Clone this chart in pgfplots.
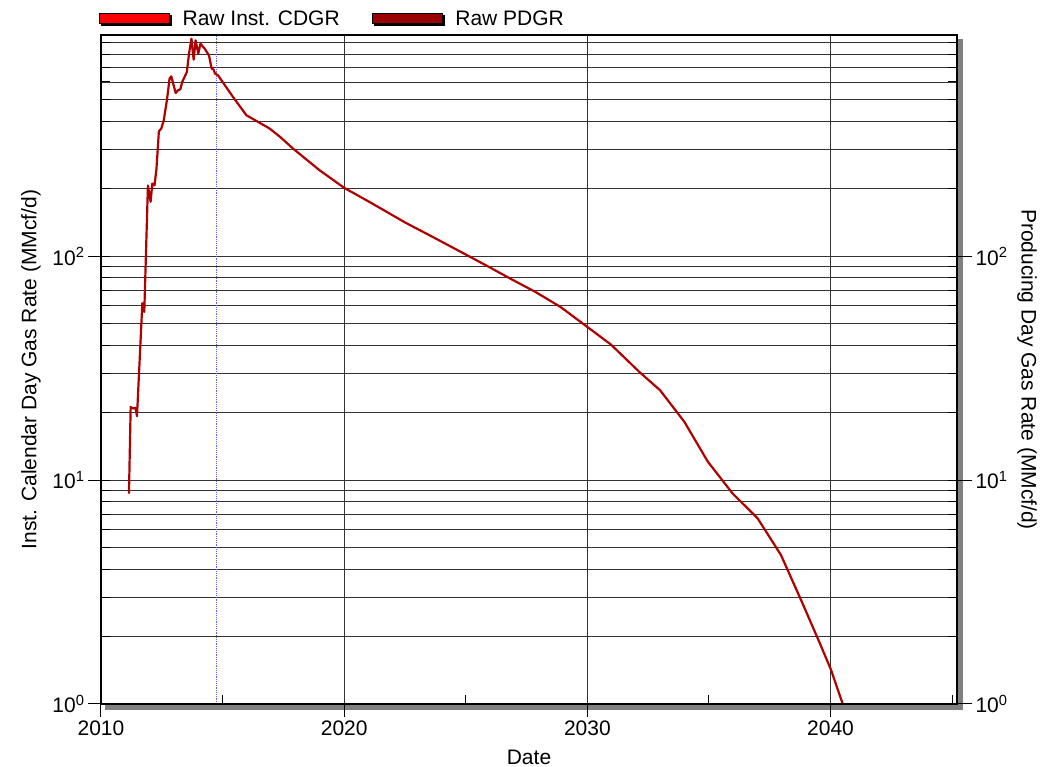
\documentclass[border=0pt]{standalone}
\usepackage{pgfplots}
\pgfplotsset{compat=1.18}
\usepackage{pgfplotstable}
\usepackage{fontspec}
\setmainfont{Liberation Sans}
\definecolor{cdgr}{HTML}{FF0000}
\definecolor{pdgr}{HTML}{990000}
\definecolor{curve}{HTML}{B00000}
\definecolor{vline}{HTML}{6060FF}
\definecolor{shadowgray}{HTML}{808080}
\newcommand\ff{\fontsize{21}{25}\selectfont}

\pgfplotstableread{
year rate
2011.15 8.7
2011.22 21.2
2011.32 20.9
2011.42 21.0
2011.48 19.3
2011.70 61.7
2011.78 56.4
2011.93 207
2012.04 175
2012.11 211
2012.20 207
2012.28 245
2012.38 361
2012.48 372
2012.58 405
2012.71 497
2012.82 621
2012.89 636
2013.07 536
2013.17 551
2013.26 556
2013.34 600
2013.53 665
2013.62 803
2013.72 937
2013.81 755
2013.89 921
2014.00 803
2014.09 890
2014.26 846
2014.44 789
2014.55 689
2014.63 682
2014.69 654
2014.81 643
2015.43 514
2015.98 426
2016.93 372
2017.34 343
2017.89 303
2018.99 242
2020.00 202
2021.03 175
2022.53 141
2023.76 120
2025.13 100
2025.95 89.6
2026.90 78.7
2027.86 69.3
2028.89 59.4
2030.00 48.3
2030.97 40.3
2032.14 30.4
2032.99 25.2
2033.99 18.2
2034.95 12.1
2035.97 8.72
2037.00 6.75
2037.96 4.63
2038.85 2.81
2039.53 1.90
2040.02 1.42
2040.50 1.0
}\pdgrtable

\begin{document}
\begin{tikzpicture}[font=\ff]
% drop shadow of the frame
\fill[shadowgray] (4pt,-6pt) rectangle (862pt,0pt);
\fill[shadowgray] (856pt,-6pt) rectangle (862pt,665pt);

% main axis
\begin{axis}[
  scale only axis,
  width=856pt, height=669pt,
  xmin=2010, xmax=2045.2,
  ymode=log, ymin=1, ymax=973,
  axis line style={line width=2.5pt, black},
  every tick/.style={black, line width=1pt},
  tick label style={font=\ff},
  label style={font=\ff},
  xtick={2010,2020,2030,2040},
  xticklabels={2010,2020,2030,2040},
  ytick={1,10,100,1000},
  yticklabels={10\textsuperscript{0},10\textsuperscript{1},10\textsuperscript{2},10\textsuperscript{3}},
  xtick pos=left, ytick pos=left,
  tick align=outside,
  major tick length=13pt,
  minor tick length=0pt,
  xmajorgrids, ymajorgrids, yminorgrids,
  major grid style={black!80, line width=0.9pt},
  minor grid style={black!80, line width=0.9pt},
  xlabel={Date},
  ylabel={Inst. Calendar Day Gas Rate (MMcf/d)},
  xlabel style={at={(axis description cs:0.5,0)}, anchor=center, yshift=-53.5pt},
  ylabel style={at={(axis description cs:0,0.5)}, anchor=center, yshift=70pt},
  legend columns=2,
  legend style={draw=none, fill=none, inner sep=0pt, outer sep=0pt,
    at={(axis description cs:0,1)}, anchor=west, xshift=-2pt, yshift=16.5pt,
    font=\ff,
    /tikz/every odd column/.append style={column sep=9pt},
    /tikz/every even column/.append style={column sep=30pt}},
  legend cell align=left,
]
\addlegendimage{legend image code/.code={
  \fill[black] (2pt,-7pt) rectangle (72pt,3pt);
  \draw[fill=cdgr, draw=black, line width=0.8pt] (0pt,-5pt) rectangle (70pt,5pt);}}
\addlegendentry{Raw Inst. CDGR}
\addlegendimage{legend image code/.code={
  \fill[black] (2pt,-7pt) rectangle (72pt,3pt);
  \draw[fill=pdgr, draw=black, line width=0.8pt] (0pt,-5pt) rectangle (70pt,5pt);}}
\addlegendentry{Raw PDGR}
\addplot[forget plot, vline, line width=0.7pt, dash pattern=on 1.2pt off 1pt]
  coordinates {(2014.73,1) (2014.73,973)};
\addplot[forget plot, curve, line width=2.2pt, line join=round] table[x=year, y=rate] {\pdgrtable};
\end{axis}

% right axis
\begin{axis}[
  scale only axis,
  width=856pt, height=669pt,
  xmin=2010, xmax=2045.2,
  ymode=log, ymin=1, ymax=973,
  axis line style={line width=2.5pt, black},
  every tick/.style={black, line width=1pt},
  tick label style={font=\ff},
  label style={font=\ff},
  hide x axis,
  ytick={1,10,100,1000},
  yticklabels={10\textsuperscript{0},10\textsuperscript{1},10\textsuperscript{2},10\textsuperscript{3}},
  ytick pos=right,
  tick align=outside,
  major tick length=15pt,
  minor tick length=0pt,
  ylabel={Producing Day Gas Rate (MMcf/d)},
  ylabel style={at={(axis description cs:1,0.5)}, anchor=center, rotate=180, yshift=70pt},
]
\end{axis}

% inner minor ticks
\begin{axis}[
  scale only axis,
  width=856pt, height=669pt,
  xmin=2010, xmax=2045.2,
  ymode=log, ymin=1, ymax=973,
  axis line style={line width=2.5pt, black},
  every tick/.style={black, line width=1pt},
  xtick={2010},
  minor xtick={2015,2025,2035,2045},
  ytick={1,10,100,1000},
  yticklabels={},
  xticklabels={},
  xtick pos=left, ytick pos=both,
  tick align=inside,
  major tick length=0pt,
  minor tick length=9pt,
]
\end{axis}

\pgfresetboundingbox
\path (-101pt,-63pt) rectangle (955pt,704pt);
\end{tikzpicture}
\end{document}
